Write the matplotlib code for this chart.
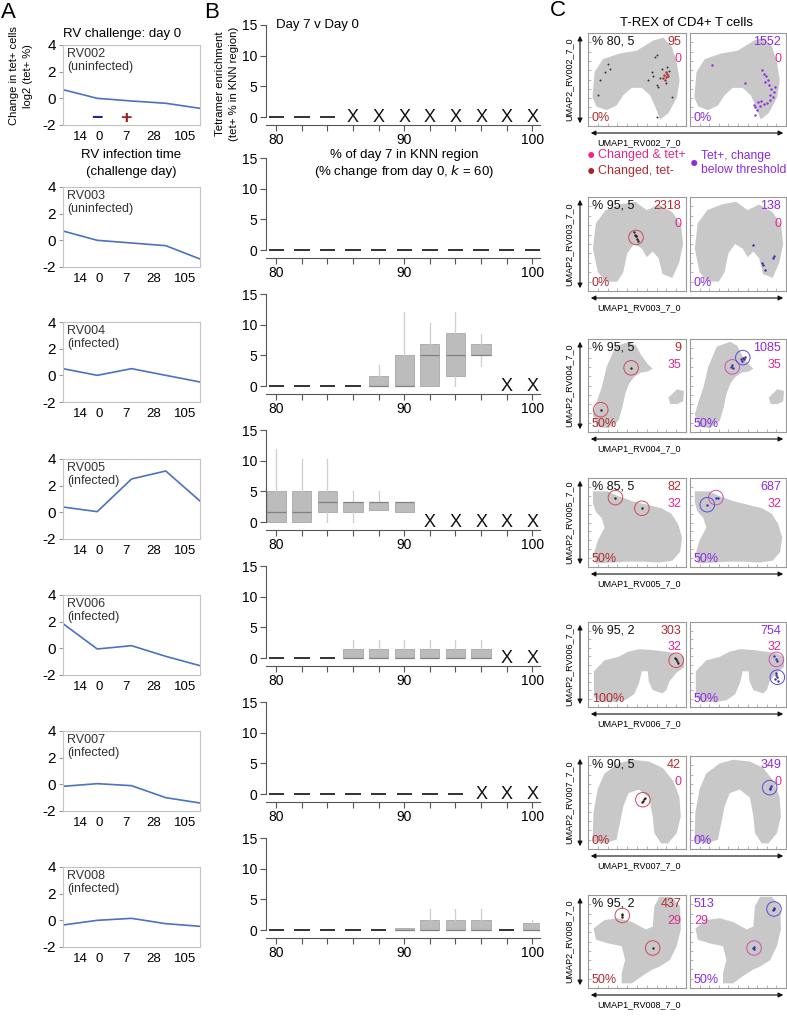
import numpy as np
import matplotlib
matplotlib.use('Agg')
import matplotlib.pyplot as plt
from matplotlib.patches import FancyArrowPatch

plt.rcParams['font.family'] = ['Liberation Sans', 'DejaVu Sans']

W, H = 787, 1027

subjects = ['RV002', 'RV003', 'RV004', 'RV005', 'RV006', 'RV007', 'RV008']
status = ['uninfected', 'uninfected', 'infected', 'infected', 'infected', 'infected', 'infected']

# ---- panel A: log2 change of tet+ %, 5 time points
a_days = ['14', '0', '7', '28', '105']
a_tickpos = [0.5, 1.05, 1.84, 2.66, 3.56]
a_change = [
    [0.65, 0.0, -0.2, -0.37, -0.75],
    [0.7, 0.0, -0.2, -0.4, -1.4],
    [0.5, 0.0, 0.5, 0.0, -0.5],
    [0.4, 0.05, 2.5, 3.1, 0.85],
    [1.85, -0.05, 0.2, -0.6, -1.3],
    [-0.15, 0.05, -0.1, -1.0, -1.4],
    [-0.35, 0.0, 0.15, -0.25, -0.45],
]

# ---- panel B: tetramer enrichment per % bin
# None = no KNN region (X), 0 = all zero (dash), tuple = (q1, med, q3, whislo, whishi)
b_bins = [80, 82, 84, 86, 88, 90, 92, 94, 96, 98, 100]
b_rv002 = [0, 0, 0, None, None, None, None, None, None, None, None]
b_rv003 = [0, 0, 0, 0, 0, 0, 0, 0, 0, 0, 0]
b_rv004 = [0, 0, 0, 0, (0, 0, 1.7, 0, 3.4), (0, 0, 5.1, 0, 12.0),
           (0, 5.1, 6.8, 0, 10.3), (1.6, 5.1, 8.6, 0, 12.0),
           (5.1, 5.1, 6.8, 3.3, 8.5), None, None]
b_rv005 = [(0, 1.6, 5.1, 0, 11.9), (0, 1.6, 5.1, 0, 10.2), (1.6, 3.3, 5.1, 0, 10.2),
           (1.6, 3.3, 3.3, 0, 5.0), (2.0, 3.3, 3.3, 2.0, 5.0), (1.6, 3.3, 3.3, 1.6, 3.3),
           None, None, None, None, None]
b_rv006 = [0, 0, 0, (0, 0, 1.4, 0, 3.0), (0, 0, 1.4, 0, 3.0), (0, 0, 1.4, 0, 3.0),
           (0, 0, 1.4, 0, 3.0), (0, 0, 1.4, 0, 3.0), (0, 0, 1.4, 0, 3.0), None, None]
b_rv007 = [0, 0, 0, 0, 0, 0, 0, 0, None, None, None]
b_rv008 = [0, 0, 0, 0, 0, (0, 0, 0.35, 0, 0.35), (0, 0, 1.7, 0, 3.4), (0, 0, 1.7, 0, 3.4),
           (0, 0, 1.7, 0, 3.4), 0, (0, 0, 1.2, 0, 1.7)]
b_rows = [b_rv002, b_rv003, b_rv004, b_rv005, b_rv006, b_rv007, b_rv008]

# ---- panel C: T-REX summary text
c_params = ['% 80, 5', '% 95, 5', '% 95, 5', '% 85, 5', '% 95, 2', '% 90, 5', '% 95, 2']
c_changed = ['95', '2318', '9', '82', '303', '42', '437']
c_tetpos = ['1552', '138', '1085', '687', '754', '349', '513']
c_both = ['0', '0', '35', '32', '32', '0', '29']
c_pct_left = ['0%', '0%', '50%', '50%', '100%', '0%', '50%']
c_pct_right = ['0%', '0%', '50%', '50%', '50%', '0%', '50%']

# UMAP outlines (scaled to 0..1)
shape_rv002 = [(.045, .31), (.068, .58), (.154, .72), (.325, .78), (.497, .81), (.668, .92),
               (.771, .95), (.856, .85), (.908, .67), (.935, .49), (.908, .31), (.822, .14),
               (.736, .07), (.685, .21), (.634, .33), (.548, .41), (.445, .41), (.36, .33),
               (.291, .22), (.188, .17), (.086, .21)]
shape_rv003 = [(.05, .45), (.08, .72), (.18, .86), (.33, .92), (.48, .95), (.6, .86), (.72, .92),
               (.86, .84), (.95, .7), (.97, .5), (.93, .3), (.86, .14), (.76, .18), (.72, .35),
               (.66, .42), (.6, .36), (.55, .45), (.47, .5), (.4, .4), (.36, .2), (.3, .1),
               (.18, .1), (.1, .2)]
shape_rv004 = [(.42, .97), (.28, .92), (.19, .7), (.14, .48), (.09, .33), (.05, .19), (.09, .06),
               (.21, .04), (.31, .12), (.35, .26), (.38, .41), (.42, .52), (.47, .59), (.54, .64),
               (.61, .65), (.66, .68), (.61, .73), (.54, .83), (.49, .93)]
island_rv004 = [(.82, .37), (.91, .46), (.98, .44), (.97, .33), (.91, .30), (.84, .30)]
shape_rv005 = [(.05, .85), (.2, .85), (.3, .8), (.45, .74), (.6, .7), (.75, .66), (.85, .6),
               (.92, .48), (.96, .33), (.94, .17), (.86, .07), (.72, .05), (.55, .06), (.4, .06),
               (.25, .05), (.08, .04), (.06, .15), (.1, .3), (.17, .44), (.14, .55), (.08, .62),
               (.05, .72)]
shape_rv006 = [(.06, .42), (.17, .55), (.31, .59), (.41, .65), (.52, .68), (.66, .67), (.8, .65),
               (.9, .63), (.98, .59), (.98, .47), (.9, .4), (.83, .3), (.8, .2), (.76, .16),
               (.66, .2), (.62, .3), (.61, .42), (.55, .42), (.52, .28), (.47, .15), (.38, .08),
               (.27, .06), (.13, .06), (.06, .12)]
shape_rv007 = [(.046, .08), (.056, .39), (.098, .64), (.168, .81), (.309, .92), (.449, .96),
               (.625, .94), (.765, .87), (.87, .73), (.933, .56), (.947, .35), (.905, .17),
               (.818, .06), (.747, .06), (.677, .17), (.66, .35), (.625, .55), (.519, .64),
               (.414, .6), (.361, .46), (.326, .28), (.291, .1), (.168, .06)]
shape_rv008 = [(.056, .64), (.168, .73), (.309, .75), (.449, .71), (.59, .63), (.66, .66),
               (.677, .88), (.73, .98), (.853, .98), (.94, .88), (.947, .63), (.905, .45),
               (.835, .3), (.73, .23), (.66, .2), (.554, .13), (.449, .05), (.344, .05),
               (.344, .16), (.379, .3), (.344, .45), (.203, .48), (.081, .52)]
c_shapes = [[shape_rv002], [shape_rv003], [shape_rv004, island_rv004], [shape_rv005],
            [shape_rv006], [shape_rv007], [shape_rv008]]

# cells (scaled UMAP coords)
tetneg_rv002 = [(.205, .671), (.171, .582), (.223, .618), (.12, .493), (.103, .332), (.685, .743),
                (.702, .761), (.651, .582), (.668, .536), (.702, .439), (.719, .414), (.616, .493),
                (.805, .636), (.829, .593), (.753, .618), (.856, .314), (.702, .1), (.736, .521),
                (.795, .457)]
changed_rv002 = [(.777, .546), (.798, .529), (.805, .564), (.788, .5), (.815, .536), (.77, .521),
                 (.795, .582)]
tetpos_rv002 = [(.233, .654), (.575, .464), (.749, .6), (.767, .564), (.791, .536), (.808, .5),
                (.784, .475), (.822, .439), (.847, .393), (.871, .368), (.889, .414), (.864, .314),
                (.836, .279), (.801, .25), (.767, .236), (.725, .214), (.679, .2), (.662, .225),
                (.704, .254), (.739, .271), (.829, .329), (.679, .118), (.697, .171)]
changed_cells = [
    changed_rv002,
    [(.47, .63), (.48, .6), (.49, .58), (.5, .55), (.51, .53), (.485, .59)],
    [(.44, .69), (.13, .24)],
    [(.28, .78), (.55, .66)],
    [(.89, .58), (.9, .56), (.91, .54), (.92, .52)],
    [(.55, .51), (.56, .52), (.57, .535), (.58, .55)],
    [(.345, .8), (.348, .78), (.35, .76), (.66, .43)],
]
tetpos_cells = [
    tetpos_rv002,
    [(.656, .49), (.865, .35), (.76, .277), (.78, .223), (.875, .37), (.75, .3)],
    [(.43, .7), (.45, .69), (.44, .72), (.53, .78), (.55, .8), (.57, .81), (.54, .76), (.56, .78)],
    [(.27, .78), (.29, .77), (.18, .7)],
    [(.88, .6), (.9, .57), (.91, .54), (.9, .38), (.91, .35), (.89, .33), (.92, .31), (.9, .4)],
    [(.83, .66), (.84, .68), (.835, .64)],
    [(.87, .85), (.88, .86), (.86, .84), (.66, .43), (.67, .44), (.665, .42)],
]
circles_left = [[], [(.49, .57)], [(.44, .69), (.13, .24)], [(.28, .78), (.55, .66)],
                [(.9, .55)], [(.56, .53)], [(.35, .78), (.66, .43)]]
circles_right_pink = [[], [], [(.44, .7)], [(.27, .78)], [(.9, .56)], [], [(.667, .43)]]
circles_right_blue = [[], [], [(.55, .8)], [(.18, .7)], [(.91, .35)], [(.83, .66)], [(.875, .85)]]

DARKRED = '#b22b30'
MAGENTA = '#e0288c'
PURPLE = '#8a2be2'
BLOB = '#c8c8c8'


def box(l, t, r, b):
    return [l / W, 1 - b / H, (r - l) / W, (b - t) / H]


fig = plt.figure(figsize=(W / 100, H / 100), dpi=100)

# ---------------- A ----------------
a_tops = [45, 187, 322, 459, 595, 731, 867]
for i, top in enumerate(a_tops):
    ax = fig.add_axes(box(63, top, 200, top + 80))
    ax.plot(range(5), a_change[i], color='#4a72c0', lw=1.2)
    ax.set_xlim(0, 4)
    ax.set_ylim(-2, 4)
    ax.set_yticks([-2, 0, 2, 4])
    ax.set_yticklabels(['-2', '0', '2', '4'], fontsize=11)
    ax.set_xticks(a_tickpos)
    ax.set_xticklabels(a_days, fontsize=9.5)
    ax.tick_params(axis='x', length=0, pad=4)
    ax.tick_params(axis='y', length=3, color='#999999', pad=2)
    for s in ax.spines.values():
        s.set_color('#c4c4c4')
        s.set_linewidth(0.8)
    ax.text(0.03, 0.96, f'{subjects[i]}\n({status[i]})', transform=ax.transAxes,
            ha='left', va='top', fontsize=9, color='#333333', linespacing=1.1)
    if i == 0:
        ax.text(a_tickpos[1] - 0.05, -1.55, '−', color='#1f2a8a', fontsize=14,
                fontweight='bold', ha='center', va='center')
        ax.text(a_tickpos[2], -1.55, '+', color='#a01c1c', fontsize=14,
                fontweight='bold', ha='center', va='center')

fig.text(63 / W, 1 - 34 / H, 'RV challenge: day 0', fontsize=9.5, ha='left', va='center')
fig.text(131 / W, 1 - 155 / H, 'RV infection time', fontsize=9.5, ha='center', va='center')
fig.text(131 / W, 1 - 172 / H, '(challenge day)', fontsize=9.5, ha='center', va='center')
fig.text(21 / W, 1 - 76 / H, 'Change in tet+ cells\nlog2 (tet+ %)', fontsize=8,
         rotation=90, ha='center', va='center', multialignment='center', linespacing=1.5)

# ---------------- B ----------------
b_tops = [25, 158, 294, 430, 566, 702, 838]
for i, top in enumerate(b_tops):
    ax = fig.add_axes(box(266, top, 540, top + 100))
    stats, pos = [], []
    for x, v in zip(b_bins, b_rows[i]):
        if v is None:
            ax.text(x, 0, 'X', ha='center', va='center', fontsize=13, color='#111111')
        elif v == 0:
            ax.hlines(0, x - 0.6, x + 0.6, color='#222222', lw=1.3)
        else:
            q1, med, q3, lo, hi = v
            stats.append(dict(q1=q1, med=med, q3=q3, whislo=lo, whishi=hi, fliers=[]))
            pos.append(x)
    if stats:
        ax.bxp(stats, positions=pos, widths=1.5, patch_artist=True, showcaps=False,
               showfliers=False, manage_ticks=False,
               boxprops=dict(facecolor='#bcbcbc', edgecolor='#a8a8a8', lw=0.6),
               medianprops=dict(color='#808080', lw=0.9),
               whiskerprops=dict(color='#cfcfcf', lw=0.9))
    ax.set_xlim(79.2, 100.6)
    ax.set_ylim(-1.3, 15)
    ax.set_xticks(b_bins)
    ax.set_xticklabels(['80', '', '', '', '', '90', '', '', '', '', '100'], fontsize=10)
    ax.set_yticks([0, 5, 10, 15])
    ax.set_yticklabels(['0', '5', '10', '15'], fontsize=10)
    ax.tick_params(length=4, color='#555555', pad=2)
    ax.spines['top'].set_visible(False)
    ax.spines['right'].set_visible(False)
    for s in ('left', 'bottom'):
        ax.spines[s].set_color('#555555')
        ax.spines[s].set_linewidth(0.8)
    ax.spines['left'].set_bounds(0, 15)
    if i == 0:
        ax.text(80.0, 15, 'Day 7 v Day 0', fontsize=9.5, ha='left', va='center')

fig.text(404 / W, 1 - 155 / H, '% of day 7 in KNN region', fontsize=9.5, ha='center', va='center')
fig.text(404 / W, 1 - 172 / H, '(% change from day 0, $\\it{k}$ = 60)', fontsize=9.5,
         ha='center', va='center')
fig.text(227 / W, 1 - 84 / H, 'Tetramer enrichment\n(tet+ % in KNN region)', fontsize=8.2,
         rotation=90, ha='center', va='center', multialignment='center', linespacing=1.4)

# ---------------- C ----------------
c_rows = [(33, 126), (197, 291), (339, 432), (478, 567), (622, 707), (756, 849), (895, 988)]
for i, (top, bot) in enumerate(c_rows):
    for side, (l, r) in enumerate([(588, 686), (690, 786)]):
        ax = fig.add_axes(box(l, top, r, bot))
        for poly in c_shapes[i]:
            u, v = zip(*poly)
            ax.fill(u, v, color=BLOB, lw=0)
        if side == 0:
            if i == 0:
                u, v = zip(*tetneg_rv002)
                ax.scatter(u, v, s=2, color='#333333', lw=0)
            u, v = zip(*changed_cells[i])
            ax.scatter(u, v, s=3, color=DARKRED if i == 0 else '#3a1a1a', lw=0)
            if circles_left[i]:
                u, v = zip(*circles_left[i])
                ax.scatter(u, v, s=110, facecolors='none', edgecolors='#d04858', lw=0.7)
        else:
            u, v = zip(*tetpos_cells[i])
            ax.scatter(u, v, s=3, color=PURPLE if i == 0 else '#3b2aa8', lw=0)
            if circles_right_pink[i]:
                u, v = zip(*circles_right_pink[i])
                ax.scatter(u, v, s=110, facecolors='none', edgecolors='#d050a8', lw=0.7)
            if circles_right_blue[i]:
                u, v = zip(*circles_right_blue[i])
                ax.scatter(u, v, s=110, facecolors='none', edgecolors='#5a4ae0', lw=0.7)
        ax.set_xlim(0, 1)
        ax.set_ylim(0, 1)
        ax.set_xticks(np.linspace(0.1, 0.9, 9))
        ax.set_yticks(np.linspace(0.1, 0.9, 9))
        ax.tick_params(direction='in', length=2, color='#999999', labelbottom=False,
                       labelleft=False, width=0.5)
        for s in ax.spines.values():
            s.set_color('#9a9a9a')
            s.set_linewidth(0.8)
        if side == 0:
            ax.text(0.04, 0.97, c_params[i], transform=ax.transAxes, ha='left', va='top',
                    fontsize=9, color='#111111')
            ax.text(0.95, 0.97, c_changed[i], transform=ax.transAxes, ha='right', va='top',
                    fontsize=9, color=DARKRED)
            ax.text(0.95, 0.78, c_both[i], transform=ax.transAxes, ha='right', va='top',
                    fontsize=9, color=MAGENTA)
            ax.text(0.04, 0.02, c_pct_left[i], transform=ax.transAxes, ha='left',
                    va='bottom', fontsize=9, color=DARKRED)
        else:
            hx, ha = (0.95, 'right') if i < 6 else (0.04, 'left')
            ax.text(hx, 0.97, c_tetpos[i], transform=ax.transAxes, ha=ha, va='top',
                    fontsize=9, color=PURPLE)
            ax.text(hx, 0.78, c_both[i], transform=ax.transAxes, ha=ha, va='top',
                    fontsize=9, color=MAGENTA)
            ax.text(0.04, 0.02, c_pct_right[i], transform=ax.transAxes, ha='left',
                    va='bottom', fontsize=9, color=PURPLE)
    # axis arrows and UMAP labels
    fig.add_artist(FancyArrowPatch((580 / W, 1 - top / H), (580 / W, 1 - bot / H),
                                   transform=fig.transFigure, arrowstyle='<|-|>',
                                   mutation_scale=7, lw=0.8, color='#111111'))
    fig.add_artist(FancyArrowPatch((588 / W, 1 - (bot + 7) / H), (786 / W, 1 - (bot + 7) / H),
                                   transform=fig.transFigure, arrowstyle='<|-|>',
                                   mutation_scale=7, lw=0.8, color='#111111'))
    fig.text(569 / W, 1 - (top + bot) / 2 / H, f'UMAP2_{subjects[i]}_7_0', fontsize=6.5,
             rotation=90, ha='center', va='center')
    fig.text(597 / W, 1 - (bot + 17) / H, f'UMAP1_{subjects[i]}_7_0', fontsize=6.5,
             ha='left', va='center')

fig.text(686 / W, 1 - 23 / H, 'T-REX of CD4+ T cells', fontsize=9.5, ha='center', va='center')

# legend
fig.text(591 / W, 1 - 155 / H, '●', fontsize=10, color='#ff1f8e', ha='center', va='center')
fig.text(598 / W, 1 - 155 / H, 'Changed & tet+', fontsize=9, color=MAGENTA, ha='left', va='center')
fig.text(591 / W, 1 - 171 / H, '●', fontsize=10, color='#b22222', ha='center', va='center')
fig.text(598 / W, 1 - 171 / H, 'Changed, tet-', fontsize=9, color=DARKRED, ha='left', va='center')
fig.text(694 / W, 1 - 163 / H, '●', fontsize=10, color=PURPLE, ha='center', va='center')
fig.text(701 / W, 1 - 163 / H, 'Tet+, change\nbelow threshold', fontsize=8.7, color=PURPLE,
         ha='left', va='center', linespacing=1.15)

# panel letters
fig.text(8 / W, 1 - 12 / H, 'A', fontsize=16, ha='center', va='center')
fig.text(212 / W, 1 - 12 / H, 'B', fontsize=16, ha='center', va='center')
fig.text(558 / W, 1 - 11 / H, 'C', fontsize=16, ha='center', va='center')

fig.savefig('out.png', dpi=100)
